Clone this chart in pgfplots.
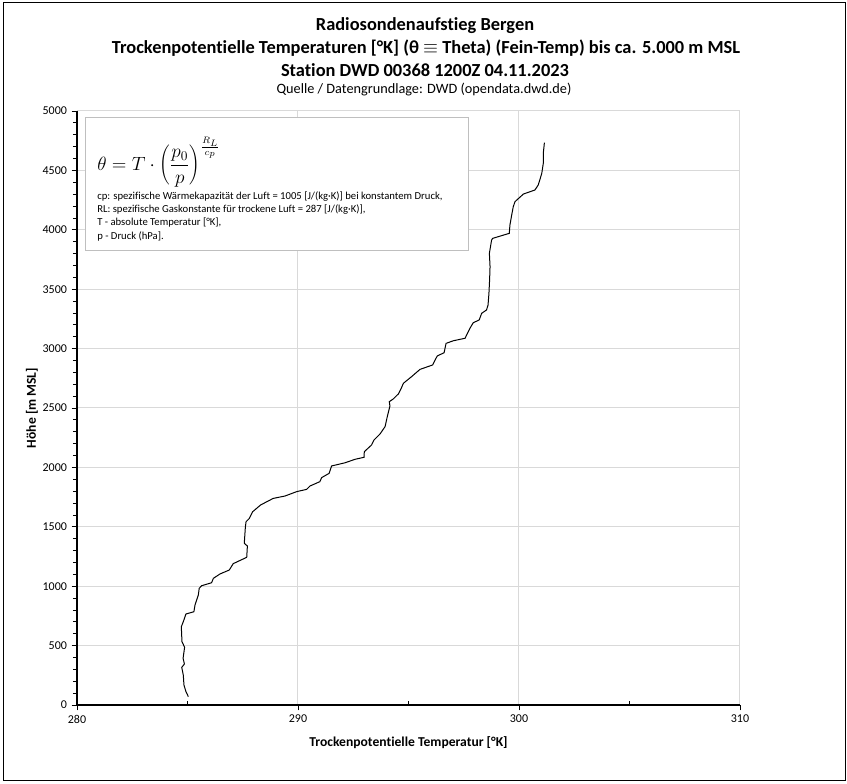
\documentclass[border=0pt]{standalone}
\usepackage{pgfplots}
\pgfplotsset{compat=1.18}
\usepackage{fontspec}
\setmainfont{Carlito}[Ligatures=NoCommon]
\definecolor{gridgray}{HTML}{D9D9D9}
\definecolor{boxgray}{HTML}{BFBFBF}

% Radiosonde Bergen 04.11.2023 12Z, theta vs height
\pgfplotstableread{
T       h
285.04  70
284.93  112
284.84  168
284.81  252
284.74  317
284.86  345
284.80  393
284.87  486
284.75  533
284.72  659
284.81  701
284.93  766
285.29  785
285.34  842
285.49  926
285.53  982
285.64  1004
286.09  1029
286.17  1066
286.47  1103
286.89  1136
287.07  1190
287.68  1243
287.71  1338
287.57  1361
287.62  1501
287.65  1543
287.80  1571
287.95  1627
288.31  1684
288.88  1739
289.41  1759
289.94  1796
290.39  1815
290.54  1843
290.99  1880
291.07  1914
291.41  1950
291.52  2012
292.13  2039
292.58  2068
292.99  2085
293.00  2132
293.33  2189
293.44  2231
293.71  2281
293.94  2343
294.04  2427
294.16  2517
294.13  2553
294.31  2576
294.54  2618
294.65  2657
294.77  2708
295.14  2764
295.52  2825
296.09  2862
296.30  2938
296.61  2965
296.70  3044
297.03  3066
297.56  3087
297.78  3171
297.93  3218
298.20  3241
298.31  3297
298.53  3325
298.60  3367
298.64  3466
298.67  3577
298.69  3690
298.66  3802
298.76  3914
298.81  3928
299.56  3970
299.59  4040
299.67  4125
299.74  4194
299.82  4237
300.20  4301
300.72  4335
300.87  4377
300.95  4425
301.03  4475
301.10  4560
301.10  4644
301.15  4734
}\sonde

\begin{document}
\begin{tikzpicture}[x=0.75pt,y=0.75pt]
\useasboundingbox (0,0) rectangle (847,784);
\fill[white] (0,0) rectangle (847,784);
\draw[black, line width=0.75pt] (3,3) rectangle (845,781);

\begin{axis}[
  at={(57.75pt,59.25pt)}, anchor=south west,
  scale only axis, width=497.25pt, height=445.5pt,
  xmin=280, xmax=310, ymin=0, ymax=5000,
  xtick={280,290,300,310}, minor x tick num=1,
  ytick distance=500, minor y tick num=4,
  axis x line*=bottom, axis y line*=left,
  axis line style={black, line width=0.8pt, -},
  grid=major, major grid style={gridgray, line width=0.75pt},
  tick align=outside, major tick length=4pt, minor tick length=3pt,
  tick style={black, line width=0.6pt},
  minor x tick style={yshift=3pt},
  ticklabel style={font=\fontsize{9}{11}\selectfont, black},
  /pgf/number format/assume math mode=true,
  /pgf/number format/1000 sep={},
  xlabel={Trockenpotentielle Temperatur [°K]},
  ylabel={Höhe [m MSL]},
  every axis x label/.style={at={(axis description cs:0.5,-0.064)}, anchor=center,
    font=\bfseries\fontsize{10.2}{12}\selectfont},
  every axis y label/.style={at={(axis description cs:-0.0679,0.5)}, rotate=90, anchor=center,
    font=\bfseries\fontsize{10.2}{12}\selectfont},
  clip=false,
]
\addplot[black, line width=0.75pt, mark=none] table[x=T, y=h] {\sonde};
\end{axis}

% title block
\node[font=\bfseries\fontsize{13.8}{16}\selectfont] at (425,758) {Radiosondenaufstieg Bergen};
\node[font=\bfseries\fontsize{13.8}{16}\selectfont] at (426,736) {Trockenpotentielle Temperaturen [°K] (θ $\equiv$ Theta) (Fein-Temp) bis ca. 5.000 m MSL};
\node[font=\bfseries\fontsize{13.8}{16}\selectfont] at (425,714) {Station DWD 00368 1200Z 04.11.2023};
\node[font=\fontsize{10.7}{13}\selectfont] at (424,694) {Quelle / Datengrundlage: DWD (opendata.dwd.de)};

% formula box
\draw[boxgray, line width=0.75pt, fill=white] (85,533) rectangle (468,666);
\node[anchor=west, inner sep=0pt, font=\fontsize{14.5}{16}\selectfont] at (97,622)
  {$\displaystyle \theta = T\cdot\left(\frac{p_0}{p}\right)^{\frac{R_L}{c_p}}$};
\node[anchor=north west, inner sep=0pt, align=left, font=\fontsize{8}{10}\selectfont] at (97,593)
  {cp: spezifische Wärmekapazität der Luft = 1005 [J/(kg·K)] bei konstantem Druck,\\
   RL: spezifische Gaskonstante für trockene Luft = 287 [J/(kg·K)],\\
   T - absolute Temperatur [°K],\\
   p - Druck (hPa].};
\end{tikzpicture}
\end{document}
